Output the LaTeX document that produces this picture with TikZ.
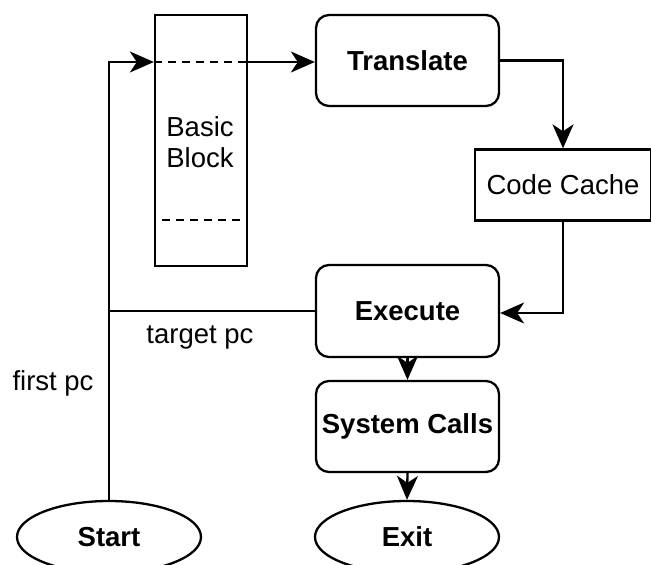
\documentclass[tikz,border=0pt]{standalone}
\usepackage{fontspec}
\setmainfont{Liberation Sans}
\usetikzlibrary{shapes.geometric,arrows.meta}
\begin{document}
\begin{tikzpicture}[x=1pt,y=-1pt,
  every node/.style={font=\fontsize{27.5}{31}\selectfont, inner sep=0pt, align=center},
  box/.style={draw, line width=2.3pt, rectangle},
  roundbox/.style={box, rounded corners=13pt, font=\fontsize{27.5}{31}\selectfont\bfseries},
  oval/.style={draw, line width=2.3pt, ellipse, font=\fontsize{27.5}{31}\selectfont\bfseries},
  link/.style={line width=2.3pt},
  arrowlink/.style={link, -{Stealth[length=24pt,width=21pt,inset=7pt]}},
  divider/.style={line width=2.3pt, dash pattern=on 8pt off 6pt}]
\useasboundingbox (0,0) rectangle (651,565);
\clip (0,0) rectangle (651,565);

% blocks
\node[box, minimum width=92pt, minimum height=251pt] (bb) at (201,140.5) {};
\node (bbtext) at (200,142) {Basic\\Block};
\node[roundbox, minimum width=183pt, minimum height=91pt] (tr) at (407.5,60.5) {Translate};
\node[box, minimum width=176pt, minimum height=71pt] (cc) at (563,185) {Code Cache};
\node[roundbox, minimum width=183pt, minimum height=92pt] (ex) at (407.5,311) {Execute};
\node[roundbox, minimum width=183pt, minimum height=91pt] (sc) at (407.5,426.5) {System Calls};
\node[oval, minimum width=184pt, minimum height=72pt] (st) at (109,537) {Start};
\node[oval, minimum width=184pt, minimum height=72pt] (xt) at (407,537) {Exit};

% dashed markers inside the basic block
\coordinate (bbin) at (bb.west |- 0,62);
\coordinate (bbout) at (bb.east |- 0,62);
\coordinate (bblo) at (162,220);
\coordinate (bblor) at (bb.east |- 0,220);
\draw[divider] (bbin) -- (bbout);
\draw[divider] (bblo) -- (bblor);

% control flow
\draw[arrowlink] (st.north) -- (st.north |- bbin) -- (bbin);
\draw[arrowlink] (bbout) -- (tr.west |- bbout);
\draw[arrowlink] (tr.east) -| (cc.north);
\coordinate (exin) at (ex.east |- 0,313);
\draw[arrowlink] (cc.south) |- (exin);
\coordinate (tj) at (st.north |- ex.west);
\draw[link] (ex.west) -- (tj);
\draw[arrowlink] (ex.south) -- (sc.north);
\draw[arrowlink] (sc.south) -- (xt.north);

% labels
\node (tpc) at (200,337) {target pc};
\node (fpc) at (53,383) {first pc};
\end{tikzpicture}
\end{document}
